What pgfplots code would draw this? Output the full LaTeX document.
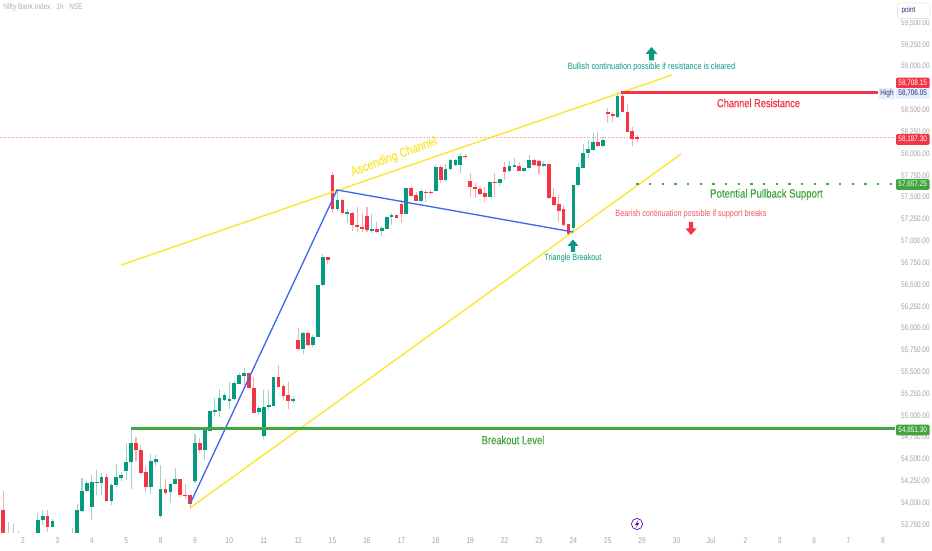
\documentclass[border=0pt]{standalone}
\usepackage{fontspec}
\usepackage{pgfplots}
\usepackage{pgfplotstable}
\pgfplotsset{compat=1.18}
\newfontfamily\cond[FakeStretch=0.8]{Liberation Sans}
\newfontfamily\condb[FakeStretch=0.8,FakeBold=0.6]{Liberation Sans}
\definecolor{tvgreen}{HTML}{089981}
\definecolor{tvred}{HTML}{F23645}
\definecolor{wickgreen}{HTML}{9CD6C9}
\definecolor{wickred}{HTML}{F9AEB5}
\definecolor{lvlgreen}{HTML}{43A53F}
\definecolor{chanyellow}{HTML}{FBE63A}
\definecolor{tblue}{HTML}{3F67F0}
\definecolor{axgray}{HTML}{A2A2A2}
\definecolor{navy}{HTML}{2A2E7A}
\definecolor{hlblue}{HTML}{E4EEFA}
\newcommand{\fs}[1]{\cond\fontsize{#1}{#1}\selectfont}
\newcommand{\fb}[1]{\condb\fontsize{#1}{#1}\selectfont}
% x = candle index (7 candles a day), top/bot = body, hi/lo = wick
\pgfplotstableread{
x top bot hi lo
-2 53620 53600 53762 53600
3 53804 53600 53892 53600
4 53853 53804 53922 53750
6 53796 53731 53815 53724
10 53620 53600 53712 53600
11 53926 53600 53991 53600
12 54136 53915 54289 53903
13 54231 54136 54258 54128
14 54243 53957 54327 53808
15 54243 54235 54380 54094
16 54296 54235 54342 54094
18 54208 54025 54235 53979
19 54296 54208 54449 54189
20 54319 54289 54361 54258
21 54475 54369 54686 54266
22 54686 54475 54851 54159
26 54483 54189 54559 54101
27 54502 54479 54552 54426
28 54159 53853 54437 53826
30 54220 54132 54246 54006
31 54273 54216 54407 54208
35 54686 54258 54789 54235
37 54857 54609 54876 54495
38 55056 54831 55056 54831
39 55067 55048 55201 55002
40 55201 55060 55308 54983
41 55239 55182 55258 55174
42 55197 55174 55384 55079
43 55373 55189 55399 55182
44 55468 55365 55495 55365
45 55495 55461 55545 55354
48 55094 55041 55113 55010
49 55105 54773 55296 54735
50 55121 55105 55296 55067
51 55441 55113 55441 55113
55 55197 55174 55228 55151
57 55950 55767 55965 55709
59 55908 55809 55927 55793
60 56496 55908 56496 55908
61 56817 56496 56855 56488
64 57473 57366 57588 57351
66 57336 57324 57366 57206
71 57137 57126 57313 57099
73 57156 57114 57175 57061
74 57279 57141 57290 57137
75 57301 57275 57328 57187
78 57607 57309 57607 57309
81 57576 57466 57595 57454
84 57848 57577 57874 57577
86 57825 57703 57886 57684
87 57932 57825 57939 57817
88 57932 57874 57940 57867
89 57977 57871 58008 57787
95 57680 57504 57691 57504
97 57710 57672 57710 57634
99 57863 57806 57920 57798
100 57874 57859 57951 57848
102 57844 57806 57844 57798
103 57932 57844 57989 57836
106 57882 57863 57920 57855
112 57645 57157 57645 57099
113 57855 57645 57893 57626
114 58008 57844 58111 57836
115 58054 58008 58161 57958
116 58138 58046 58237 58039
118 58165 58092 58191 58084
121 58665 58428 58706 58409
}\upcandles
\pgfplotstableread{
x top bot hi lo
-4 53922 53600 54144 53600
-3 53620 53600 53789 53600
-1 53620 53600 53682 53600
5 53853 53724 53922 53666
17 54296 54021 54335 54018
23 54686 54609 54754 54483
24 54609 54342 54666 54334
25 54353 54189 54426 54132
29 54159 54120 54273 54094
32 54273 54090 54273 54075
33 54094 54086 54220 54048
34 54094 53987 54094 53933
36 54686 54609 54743 54571
46 55495 55315 55495 55304
47 55315 55037 55449 55037
52 55441 55335 55587 55327
53 55342 55235 55365 55170
54 55239 55170 55384 55079
56 55870 55763 56003 55744
58 55950 55809 55965 55801
62 56817 56790 56817 56740
63 57760 57370 57794 57321
65 57473 57328 57481 57309
67 57321 57187 57340 57122
68 57191 57164 57397 57111
69 57168 57145 57321 57111
70 57290 57130 57397 57103
72 57137 57111 57225 57099
76 57301 57271 57301 57271
77 57424 57309 57473 57214
79 57607 57523 57634 57511
80 57531 57466 57569 57462
82 57569 57557 57588 57454
83 57569 57557 57588 57538
85 57848 57703 57874 57664
90 57977 57970 58000 57947
91 57695 57622 57787 57512
92 57626 57603 57664 57493
93 57603 57542 57619 57527
94 57550 57504 57626 57454
96 57680 57672 57779 57504
98 57848 57798 57913 57703
101 57863 57809 57913 57809
104 57935 57871 57939 57863
105 57920 57859 57932 57771
107 57886 57500 57886 57481
108 57504 57416 57607 57405
109 57432 57348 57531 57225
110 57367 57191 57416 57180
111 57195 57084 57195 57076
117 58138 58092 58249 58084
119 58485 58462 58523 58352
120 58459 58436 58485 58371
122 58665 58485 58688 58478
123 58485 58256 58573 58249
124 58264 58172 58313 58096
125 58191 58183 58218 58142
}\downcandles
\begin{document}
\begin{tikzpicture}[x=1pt,y=1pt]
\path[use as bounding box] (0,0) rectangle (699pt,412.5pt);
\begin{axis}[
  at={(0pt,13.5pt)},
  anchor=south west,
  scale only axis,width=671.25pt,height=399pt,
  xmin=-4.68,xmax=177.45,ymin=53670,ymax=59764,
  axis line style={draw=none},
  major tick length=0pt,
  tick style={draw=none},
  yticklabel pos=right,
  ytick={53750,54000,54250,54500,54750,55000,55250,55500,55750,56000,56250,56500,56750,57000,57250,57500,57750,58000,58250,58500,59000,59250,59500},
  xtick={0,7,14,21,28,35,42,49,56,63,70,77,84,91,98,105,112,119,126,133,140,147,154,161,168,175},
  xticklabels={2,3,4,5,8,9,10,11,12,15,16,17,18,19,22,23,24,25,29,30,Jul,2,3,6,7,8},
  /pgf/number format/assume math mode=true,
  scaled y ticks=false,
  yticklabel style={/pgf/number format/fixed,/pgf/number format/fixed zerofill,/pgf/number format/precision=2,/pgf/number format/1000 sep={,},font=\fs{6},text=axgray,inner sep=4.4pt},
  xticklabel style={font=\fs{6.2},text=axgray,inner sep=4pt},
]
% dotted last price
\addplot[tvred!60,line width=0.7pt,dash pattern=on 0.8pt off 1.2pt,forget plot] coordinates {(-4.68,58187.3) (177.45,58187.3)};
% wicks
\addplot[draw=none,forget plot,error bars/.cd,y dir=both,y explicit,error mark=none,error bar style={line width=0.8pt,color=wickgreen}]
  table[x=x,y expr=(\thisrow{top}+\thisrow{bot})/2,y error plus expr=\thisrow{hi}-(\thisrow{top}+\thisrow{bot})/2,y error minus expr=(\thisrow{top}+\thisrow{bot})/2-\thisrow{lo}] {\upcandles};
\addplot[draw=none,forget plot,error bars/.cd,y dir=both,y explicit,error mark=none,error bar style={line width=0.8pt,color=wickred}]
  table[x=x,y expr=(\thisrow{top}+\thisrow{bot})/2,y error plus expr=\thisrow{hi}-(\thisrow{top}+\thisrow{bot})/2,y error minus expr=(\thisrow{top}+\thisrow{bot})/2-\thisrow{lo}] {\downcandles};
% bodies
\addplot[draw=none,forget plot,error bars/.cd,y dir=both,y explicit,error mark=none,error bar style={line width=2.8pt,color=tvgreen}]
  table[x=x,y expr=(\thisrow{top}+\thisrow{bot})/2,y error expr=(\thisrow{top}-\thisrow{bot})/2] {\upcandles};
\addplot[draw=none,forget plot,error bars/.cd,y dir=both,y explicit,error mark=none,error bar style={line width=2.8pt,color=tvred}]
  table[x=x,y expr=(\thisrow{top}+\thisrow{bot})/2,y error expr=(\thisrow{top}-\thisrow{bot})/2] {\downcandles};
% channel
\addplot[chanyellow,line width=1.1pt,forget plot] coordinates {(19.94,56728) (132.07,58905)};
\addplot[chanyellow,line width=1.1pt,forget plot] coordinates {(33.98,53945) (133.9,58000)};
% triangle
\addplot[tblue,line width=1pt,forget plot] coordinates {(33.98,53990) (63.9,57588) (111.9,57107)};
% levels
\addplot[lvlgreen,line width=2.3pt,forget plot] coordinates {(22,54851.3) (177.45,54851.3)};
\addplot[tvred,line width=2.2pt,forget plot] coordinates {(121.7,58708.15) (174,58708.15)};
\addplot[lvlgreen,line width=1.7pt,dash pattern=on 1.7pt off 7.8pt,forget plot] coordinates {(124.8,57657.25) (176.9,57657.25)};
\end{axis}
% pixel-based annotation layer
\begin{scope}[shift={(0pt,412.5pt)},x=0.75pt,y=-0.75pt]
\node[anchor=west,inner sep=0,text=axgray!85] at (3,7) {\fs{6.1}Nifty Bank Index · 1h · NSE};
\node[text=tvgreen,inner sep=0] at (651.5,67) {\fs{6.9}Bullish continuation possible if resistance is cleared};
\node[text=tvred,inner sep=0] at (758.5,103) {\fb{8.7}Channel Resistance};
\node[text=lvlgreen,inner sep=0] at (766.5,194.5) {\fb{9}Potential Pullback Support};
\node[text=lvlgreen,inner sep=0] at (513,440) {\fb{8.8}Breakout Level};
\node[text=chanyellow,inner sep=0,rotate=20.5] at (394,157) {\fb{9.8}Ascending Channel};
\node[text=tvgreen,inner sep=0] at (573,258) {\fs{6.8}Triangle Breakout};
\node[text=tvred!85,inner sep=0] at (691,214) {\fs{6.85}Bearish continuation possible if support breaks};
% arrows
\fill[tvgreen] (651.5,47) -- (657.5,54) -- (654,54) -- (654,60.5) -- (649,60.5) -- (649,54) -- (645.5,54) -- cycle;
\fill[tvgreen] (573,239.5) -- (578.5,246) -- (575.2,246) -- (575.2,252) -- (570.8,252) -- (570.8,246) -- (567.5,246) -- cycle;
\fill[tvred] (691,235) -- (696.5,228.5) -- (693.2,228.5) -- (693.2,222) -- (688.8,222) -- (688.8,228.5) -- (685.5,228.5) -- cycle;
% right scale labels
\fill[white] (896,0) rectangle (932,20);
\draw[black!10,fill=white,rounded corners=1.5pt,line width=0.4pt] (897.5,3) rectangle (930,18.5);
\node[text=navy,inner sep=0] at (908.5,10.5) {\fs{6}point};
\newcommand{\pricebox}[4]{\fill[#3,rounded corners=0.8pt] (896,#1-5.3) rectangle (929.5,#1+5.3);\node[text=#4,inner sep=0] at (912.7,#1) {\fs{6}#2};}
\pricebox{83}{58,708.15}{tvred}{white}
\pricebox{93.4}{58,706.05}{hlblue}{navy}
\fill[hlblue] (879,88.1) rectangle (895,98.7);
\node[text=navy,inner sep=0] at (887,93.4) {\fs{6}High};
\pricebox{139.5}{58,187.30}{tvred}{white}
\pricebox{184.5}{57,657.25}{lvlgreen}{white}
\pricebox{430}{54,851.30}{lvlgreen}{white}
% lightning badge
\draw[violet!75!blue,line width=0.5pt] (637,524) circle (5.6);
\fill[violet!75!blue] (638.2,520) -- (635.2,524.8) -- (637,524.8) -- (635.9,528) -- (638.9,523.2) -- (637.1,523.2) -- cycle;
\end{scope}
\end{tikzpicture}
\end{document}
